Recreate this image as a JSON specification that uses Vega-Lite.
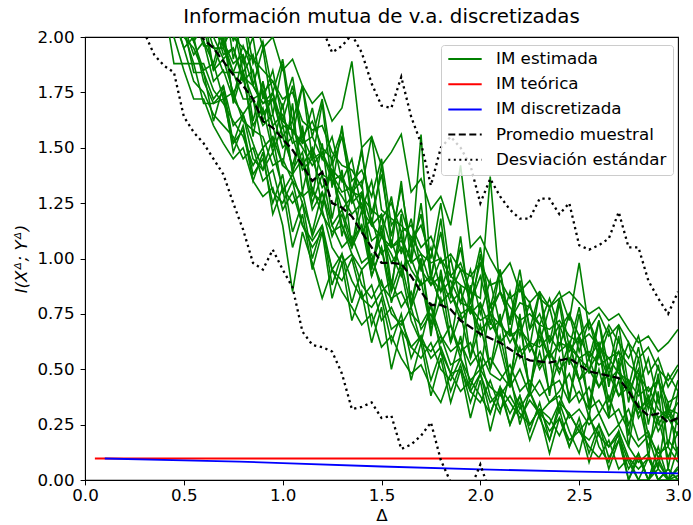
{
"$schema":"https://vega.github.io/schema/vega-lite/v6.json",
"width":593,"height":443,
"autosize":{"type":"none"},
"padding":{"left":85,"top":37,"right":15,"bottom":45},
"title":{"text":"Información mutua de v.a. discretizadas","fontSize":19.8,"fontWeight":"normal","font":"DejaVu Sans","color":"black","offset":2},
"config":{"font":"DejaVu Sans","view":{"stroke":"black","strokeWidth":1.1},
"axis":{"grid":false,"labelFlush":false,"domainColor":"black","domainWidth":1,"tickColor":"black","tickWidth":1,"labelColor":"black","titleColor":"black","labelFontSize":16.7,"titleFontSize":16.7,"titleFontWeight":"normal","tickSize":4.9}},
"datasets":{
"est":[
{"r":1,"x":0.3,"y":2.45},{"r":1,"x":0.35,"y":2.2},{"r":1,"x":0.4,"y":2.15},{"r":1,"x":0.45,"y":1.88},{"r":1,"x":0.5,"y":1.88},{"r":1,"x":0.55,"y":1.88},{"r":1,"x":0.6,"y":1.7},{"r":1,"x":0.65,"y":1.7},{"r":1,"x":0.7,"y":1.75},{"r":1,"x":0.75,"y":1.48},{"r":1,"x":0.8,"y":1.6},{"r":1,"x":0.85,"y":1.38},{"r":1,"x":0.9,"y":1.45},{"r":1,"x":0.95,"y":1.25},{"r":1,"x":1,"y":1.38},{"r":1,"x":1.05,"y":1.12},{"r":1,"x":1.1,"y":1.25},{"r":1,"x":1.15,"y":1},{"r":1,"x":1.2,"y":1.15},{"r":1,"x":1.25,"y":0.88},{"r":1,"x":1.3,"y":1.02},{"r":1,"x":1.35,"y":0.8},{"r":1,"x":1.4,"y":0.95},{"r":1,"x":1.45,"y":0.7},{"r":1,"x":1.5,"y":0.82},{"r":1,"x":1.55,"y":0.62},{"r":1,"x":1.6,"y":0.75},{"r":1,"x":1.65,"y":0.55},{"r":1,"x":1.7,"y":0.65},{"r":1,"x":1.75,"y":0.45},{"r":1,"x":1.8,"y":0.58},{"r":1,"x":1.85,"y":0.4},{"r":1,"x":1.9,"y":0.52},{"r":1,"x":1.95,"y":0.35},{"r":1,"x":2,"y":0.48},{"r":1,"x":2.05,"y":0.3},{"r":1,"x":2.1,"y":0.42},{"r":1,"x":2.15,"y":0.25},{"r":1,"x":2.2,"y":0.38},{"r":1,"x":2.25,"y":0.22},{"r":1,"x":2.3,"y":0.35},{"r":1,"x":2.35,"y":0.18},{"r":1,"x":2.4,"y":0.32},{"r":1,"x":2.45,"y":0.15},{"r":1,"x":2.5,"y":0.28},{"r":1,"x":2.55,"y":0.12},{"r":1,"x":2.6,"y":0.25},{"r":1,"x":2.65,"y":0.1},{"r":1,"x":2.7,"y":0.18},{"r":1,"x":2.75,"y":0.05},{"r":1,"x":2.8,"y":0.12},{"r":1,"x":2.85,"y":0},{"r":1,"x":2.9,"y":0.08},{"r":1,"x":2.95,"y":0},{"r":1,"x":3,"y":0.05},
{"r":2,"x":0.3,"y":3},{"r":2,"x":0.35,"y":2.85},{"r":2,"x":0.4,"y":2.8},{"r":2,"x":0.45,"y":2.55},{"r":2,"x":0.5,"y":2.5},{"r":2,"x":0.55,"y":2.25},{"r":2,"x":0.6,"y":2.35},{"r":2,"x":0.65,"y":2.1},{"r":2,"x":0.7,"y":2.25},{"r":2,"x":0.75,"y":1.98},{"r":2,"x":0.8,"y":2.12},{"r":2,"x":0.85,"y":1.88},{"r":2,"x":0.9,"y":1.98},{"r":2,"x":0.95,"y":1.75},{"r":2,"x":1,"y":1.9},{"r":2,"x":1.05,"y":1.62},{"r":2,"x":1.1,"y":1.78},{"r":2,"x":1.15,"y":1.55},{"r":2,"x":1.2,"y":1.72},{"r":2,"x":1.25,"y":1.42},{"r":2,"x":1.3,"y":1.55},{"r":2,"x":1.35,"y":1.3},{"r":2,"x":1.4,"y":1.48},{"r":2,"x":1.45,"y":1.2},{"r":2,"x":1.5,"y":1.38},{"r":2,"x":1.55,"y":1.1},{"r":2,"x":1.6,"y":1.32},{"r":2,"x":1.65,"y":1.05},{"r":2,"x":1.7,"y":1.2},{"r":2,"x":1.75,"y":0.92},{"r":2,"x":1.8,"y":1.12},{"r":2,"x":1.85,"y":0.85},{"r":2,"x":1.9,"y":1.05},{"r":2,"x":1.95,"y":0.8},{"r":2,"x":2,"y":0.98},{"r":2,"x":2.05,"y":0.78},{"r":2,"x":2.1,"y":0.95},{"r":2,"x":2.15,"y":0.7},{"r":2,"x":2.2,"y":0.9},{"r":2,"x":2.25,"y":0.68},{"r":2,"x":2.3,"y":0.85},{"r":2,"x":2.35,"y":0.62},{"r":2,"x":2.4,"y":0.82},{"r":2,"x":2.45,"y":0.6},{"r":2,"x":2.5,"y":0.78},{"r":2,"x":2.55,"y":0.55},{"r":2,"x":2.6,"y":0.72},{"r":2,"x":2.65,"y":0.5},{"r":2,"x":2.7,"y":0.7},{"r":2,"x":2.75,"y":0.42},{"r":2,"x":2.8,"y":0.6},{"r":2,"x":2.85,"y":0.35},{"r":2,"x":2.9,"y":0.52},{"r":2,"x":2.95,"y":0.3},{"r":2,"x":3,"y":0.45},
{"r":3,"x":0.3,"y":2.8},{"r":3,"x":0.35,"y":2.7},{"r":3,"x":0.4,"y":2.5},{"r":3,"x":0.45,"y":2.38},{"r":3,"x":0.5,"y":2.2},{"r":3,"x":0.55,"y":2.15},{"r":3,"x":0.6,"y":2.02},{"r":3,"x":0.65,"y":2.08},{"r":3,"x":0.7,"y":1.92},{"r":3,"x":0.75,"y":1.95},{"r":3,"x":0.8,"y":1.8},{"r":3,"x":0.85,"y":1.85},{"r":3,"x":0.9,"y":1.65},{"r":3,"x":0.95,"y":1.72},{"r":3,"x":1,"y":1.55},{"r":3,"x":1.05,"y":1.62},{"r":3,"x":1.1,"y":1.42},{"r":3,"x":1.15,"y":1.5},{"r":3,"x":1.2,"y":1.38},{"r":3,"x":1.25,"y":1.35},{"r":3,"x":1.3,"y":1.28},{"r":3,"x":1.35,"y":1.2},{"r":3,"x":1.4,"y":1.25},{"r":3,"x":1.45,"y":1.08},{"r":3,"x":1.5,"y":1.12},{"r":3,"x":1.55,"y":0.98},{"r":3,"x":1.6,"y":1.05},{"r":3,"x":1.65,"y":0.95},{"r":3,"x":1.7,"y":0.88},{"r":3,"x":1.75,"y":0.92},{"r":3,"x":1.8,"y":0.8},{"r":3,"x":1.85,"y":0.85},{"r":3,"x":1.9,"y":0.72},{"r":3,"x":1.95,"y":0.78},{"r":3,"x":2,"y":0.65},{"r":3,"x":2.05,"y":0.75},{"r":3,"x":2.1,"y":0.62},{"r":3,"x":2.15,"y":0.68},{"r":3,"x":2.2,"y":0.55},{"r":3,"x":2.25,"y":0.62},{"r":3,"x":2.3,"y":0.5},{"r":3,"x":2.35,"y":0.58},{"r":3,"x":2.4,"y":0.48},{"r":3,"x":2.45,"y":0.62},{"r":3,"x":2.5,"y":0.45},{"r":3,"x":2.55,"y":0.55},{"r":3,"x":2.6,"y":0.42},{"r":3,"x":2.65,"y":0.52},{"r":3,"x":2.7,"y":0.38},{"r":3,"x":2.75,"y":0.45},{"r":3,"x":2.8,"y":0.28},{"r":3,"x":2.85,"y":0.35},{"r":3,"x":2.9,"y":0.22},{"r":3,"x":2.95,"y":0.3},{"r":3,"x":3,"y":0.25},
{"r":4,"x":0.3,"y":2.65},{"r":4,"x":0.35,"y":2.4},{"r":4,"x":0.4,"y":2.38},{"r":4,"x":0.45,"y":2.15},{"r":4,"x":0.5,"y":2.05},{"r":4,"x":0.55,"y":1.92},{"r":4,"x":0.6,"y":1.98},{"r":4,"x":0.65,"y":1.8},{"r":4,"x":0.7,"y":1.85},{"r":4,"x":0.75,"y":1.72},{"r":4,"x":0.8,"y":1.65},{"r":4,"x":0.85,"y":1.72},{"r":4,"x":0.9,"y":1.5},{"r":4,"x":0.95,"y":1.55},{"r":4,"x":1,"y":1.42},{"r":4,"x":1.05,"y":1.38},{"r":4,"x":1.1,"y":1.45},{"r":4,"x":1.15,"y":1.22},{"r":4,"x":1.2,"y":1.3},{"r":4,"x":1.25,"y":1.15},{"r":4,"x":1.3,"y":1.05},{"r":4,"x":1.35,"y":1.1},{"r":4,"x":1.4,"y":0.98},{"r":4,"x":1.45,"y":1.02},{"r":4,"x":1.5,"y":0.85},{"r":4,"x":1.55,"y":0.9},{"r":4,"x":1.6,"y":0.78},{"r":4,"x":1.65,"y":0.85},{"r":4,"x":1.7,"y":0.68},{"r":4,"x":1.75,"y":0.75},{"r":4,"x":1.8,"y":0.62},{"r":4,"x":1.85,"y":0.7},{"r":4,"x":1.9,"y":0.58},{"r":4,"x":1.95,"y":0.62},{"r":4,"x":2,"y":0.5},{"r":4,"x":2.05,"y":0.55},{"r":4,"x":2.1,"y":0.48},{"r":4,"x":2.15,"y":0.42},{"r":4,"x":2.2,"y":0.5},{"r":4,"x":2.25,"y":0.38},{"r":4,"x":2.3,"y":0.45},{"r":4,"x":2.35,"y":0.35},{"r":4,"x":2.4,"y":0.4},{"r":4,"x":2.45,"y":0.48},{"r":4,"x":2.5,"y":0.35},{"r":4,"x":2.55,"y":0.42},{"r":4,"x":2.6,"y":0.3},{"r":4,"x":2.65,"y":0.38},{"r":4,"x":2.7,"y":0.25},{"r":4,"x":2.75,"y":0.32},{"r":4,"x":2.8,"y":0.18},{"r":4,"x":2.85,"y":0.22},{"r":4,"x":2.9,"y":0.1},{"r":4,"x":2.95,"y":0.18},{"r":4,"x":3,"y":0.12},
{"r":5,"x":0.3,"y":3.1},{"r":5,"x":0.35,"y":2.95},{"r":5,"x":0.4,"y":2.85},{"r":5,"x":0.45,"y":2.7},{"r":5,"x":0.5,"y":2.55},{"r":5,"x":0.55,"y":2.45},{"r":5,"x":0.6,"y":2.3},{"r":5,"x":0.65,"y":2.35},{"r":5,"x":0.7,"y":2.18},{"r":5,"x":0.75,"y":2.22},{"r":5,"x":0.8,"y":2.08},{"r":5,"x":0.85,"y":2.12},{"r":5,"x":0.9,"y":1.95},{"r":5,"x":0.95,"y":2},{"r":5,"x":1,"y":1.85},{"r":5,"x":1.05,"y":1.9},{"r":5,"x":1.1,"y":1.78},{"r":5,"x":1.15,"y":1.7},{"r":5,"x":1.2,"y":1.75},{"r":5,"x":1.25,"y":1.62},{"r":5,"x":1.3,"y":1.68},{"r":5,"x":1.35,"y":1.89},{"r":5,"x":1.4,"y":1.5},{"r":5,"x":1.45,"y":1.55},{"r":5,"x":1.5,"y":1.42},{"r":5,"x":1.55,"y":1.48},{"r":5,"x":1.6,"y":1.56},{"r":5,"x":1.65,"y":1.3},{"r":5,"x":1.7,"y":1.36},{"r":5,"x":1.75,"y":1.22},{"r":5,"x":1.8,"y":1.28},{"r":5,"x":1.85,"y":1.15},{"r":5,"x":1.9,"y":1.42},{"r":5,"x":1.95,"y":1.05},{"r":5,"x":2,"y":1.1},{"r":5,"x":2.05,"y":1},{"r":5,"x":2.1,"y":0.92},{"r":5,"x":2.15,"y":0.98},{"r":5,"x":2.2,"y":0.85},{"r":5,"x":2.25,"y":0.9},{"r":5,"x":2.3,"y":0.82},{"r":5,"x":2.35,"y":0.78},{"r":5,"x":2.4,"y":0.85},{"r":5,"x":2.45,"y":0.72},{"r":5,"x":2.5,"y":0.98},{"r":5,"x":2.55,"y":0.68},{"r":5,"x":2.6,"y":0.75},{"r":5,"x":2.65,"y":0.65},{"r":5,"x":2.7,"y":0.7},{"r":5,"x":2.75,"y":0.62},{"r":5,"x":2.8,"y":0.55},{"r":5,"x":2.85,"y":0.6},{"r":5,"x":2.9,"y":0.5},{"r":5,"x":2.95,"y":0.45},{"r":5,"x":3,"y":0.52},
{"r":6,"x":0.3,"y":2.55},{"r":6,"x":0.35,"y":2.45},{"r":6,"x":0.4,"y":2.25},{"r":6,"x":0.45,"y":2.2},{"r":6,"x":0.5,"y":2},{"r":6,"x":0.55,"y":1.95},{"r":6,"x":0.6,"y":1.84},{"r":6,"x":0.65,"y":1.72},{"r":6,"x":0.7,"y":1.78},{"r":6,"x":0.75,"y":1.6},{"r":6,"x":0.8,"y":1.65},{"r":6,"x":0.85,"y":1.52},{"r":6,"x":0.9,"y":1.4},{"r":6,"x":0.95,"y":1.48},{"r":6,"x":1,"y":1.32},{"r":6,"x":1.05,"y":1.25},{"r":6,"x":1.1,"y":1.3},{"r":6,"x":1.15,"y":1.1},{"r":6,"x":1.2,"y":1.22},{"r":6,"x":1.25,"y":1.05},{"r":6,"x":1.3,"y":0.98},{"r":6,"x":1.35,"y":1.02},{"r":6,"x":1.4,"y":0.88},{"r":6,"x":1.45,"y":0.82},{"r":6,"x":1.5,"y":0.9},{"r":6,"x":1.55,"y":0.75},{"r":6,"x":1.6,"y":0.7},{"r":6,"x":1.65,"y":0.78},{"r":6,"x":1.7,"y":0.62},{"r":6,"x":1.75,"y":0.58},{"r":6,"x":1.8,"y":0.65},{"r":6,"x":1.85,"y":0.52},{"r":6,"x":1.9,"y":0.55},{"r":6,"x":1.95,"y":0.45},{"r":6,"x":2,"y":0.5},{"r":6,"x":2.05,"y":0.42},{"r":6,"x":2.1,"y":0.38},{"r":6,"x":2.15,"y":0.45},{"r":6,"x":2.2,"y":0.32},{"r":6,"x":2.25,"y":0.4},{"r":6,"x":2.3,"y":0.3},{"r":6,"x":2.35,"y":0.35},{"r":6,"x":2.4,"y":0.38},{"r":6,"x":2.45,"y":0.28},{"r":6,"x":2.5,"y":0.32},{"r":6,"x":2.55,"y":0.25},{"r":6,"x":2.6,"y":0.3},{"r":6,"x":2.65,"y":0.2},{"r":6,"x":2.7,"y":0.25},{"r":6,"x":2.75,"y":0.15},{"r":6,"x":2.8,"y":0.08},{"r":6,"x":2.85,"y":0.12},{"r":6,"x":2.9,"y":0},{"r":6,"x":2.95,"y":0.05},{"r":6,"x":3,"y":0},
{"r":7,"x":0.3,"y":2.9},{"r":7,"x":0.35,"y":2.8},{"r":7,"x":0.4,"y":2.58},{"r":7,"x":0.45,"y":2.5},{"r":7,"x":0.5,"y":2.3},{"r":7,"x":0.55,"y":2.25},{"r":7,"x":0.6,"y":2.05},{"r":7,"x":0.65,"y":2.2},{"r":7,"x":0.7,"y":1.95},{"r":7,"x":0.75,"y":2.1},{"r":7,"x":0.8,"y":1.88},{"r":7,"x":0.85,"y":2},{"r":7,"x":0.9,"y":1.72},{"r":7,"x":0.95,"y":1.85},{"r":7,"x":1,"y":1.62},{"r":7,"x":1.05,"y":1.78},{"r":7,"x":1.1,"y":1.52},{"r":7,"x":1.15,"y":1.68},{"r":7,"x":1.2,"y":1.45},{"r":7,"x":1.25,"y":1.55},{"r":7,"x":1.3,"y":1.35},{"r":7,"x":1.35,"y":1.45},{"r":7,"x":1.4,"y":1.22},{"r":7,"x":1.45,"y":1.35},{"r":7,"x":1.5,"y":1.1},{"r":7,"x":1.55,"y":1.28},{"r":7,"x":1.6,"y":1.02},{"r":7,"x":1.65,"y":1.18},{"r":7,"x":1.7,"y":0.95},{"r":7,"x":1.75,"y":1.05},{"r":7,"x":1.8,"y":0.85},{"r":7,"x":1.85,"y":1},{"r":7,"x":1.9,"y":0.8},{"r":7,"x":1.95,"y":0.95},{"r":7,"x":2,"y":0.75},{"r":7,"x":2.05,"y":0.9},{"r":7,"x":2.1,"y":0.7},{"r":7,"x":2.15,"y":0.85},{"r":7,"x":2.2,"y":0.65},{"r":7,"x":2.25,"y":0.8},{"r":7,"x":2.3,"y":0.62},{"r":7,"x":2.35,"y":0.78},{"r":7,"x":2.4,"y":0.6},{"r":7,"x":2.45,"y":0.75},{"r":7,"x":2.5,"y":0.58},{"r":7,"x":2.55,"y":0.72},{"r":7,"x":2.6,"y":0.55},{"r":7,"x":2.65,"y":0.68},{"r":7,"x":2.7,"y":0.5},{"r":7,"x":2.75,"y":0.62},{"r":7,"x":2.8,"y":0.42},{"r":7,"x":2.85,"y":0.55},{"r":7,"x":2.9,"y":0.35},{"r":7,"x":2.95,"y":0.48},{"r":7,"x":3,"y":0.4},
{"r":8,"x":0.3,"y":2.4},{"r":8,"x":0.35,"y":2.25},{"r":8,"x":0.4,"y":2.1},{"r":8,"x":0.45,"y":2},{"r":8,"x":0.5,"y":1.85},{"r":8,"x":0.55,"y":1.72},{"r":8,"x":0.6,"y":1.72},{"r":8,"x":0.65,"y":1.6},{"r":8,"x":0.7,"y":1.52},{"r":8,"x":0.75,"y":1.45},{"r":8,"x":0.8,"y":1.5},{"r":8,"x":0.85,"y":1.35},{"r":8,"x":0.9,"y":1.28},{"r":8,"x":0.95,"y":1.32},{"r":8,"x":1,"y":1.15},{"r":8,"x":1.05,"y":0.85},{"r":8,"x":1.1,"y":1.12},{"r":8,"x":1.15,"y":0.98},{"r":8,"x":1.2,"y":0.82},{"r":8,"x":1.25,"y":0.95},{"r":8,"x":1.3,"y":0.85},{"r":8,"x":1.35,"y":0.78},{"r":8,"x":1.4,"y":0.7},{"r":8,"x":1.45,"y":0.75},{"r":8,"x":1.5,"y":0.6},{"r":8,"x":1.55,"y":0.65},{"r":8,"x":1.6,"y":0.55},{"r":8,"x":1.65,"y":0.48},{"r":8,"x":1.7,"y":0.52},{"r":8,"x":1.75,"y":0.42},{"r":8,"x":1.8,"y":0.35},{"r":8,"x":1.85,"y":0.48},{"r":8,"x":1.9,"y":0.4},{"r":8,"x":1.95,"y":0.45},{"r":8,"x":2,"y":0.38},{"r":8,"x":2.05,"y":0.3},{"r":8,"x":2.1,"y":0.42},{"r":8,"x":2.15,"y":0.35},{"r":8,"x":2.2,"y":0.28},{"r":8,"x":2.25,"y":0.36},{"r":8,"x":2.3,"y":0.3},{"r":8,"x":2.35,"y":0.25},{"r":8,"x":2.4,"y":0.35},{"r":8,"x":2.45,"y":0.3},{"r":8,"x":2.5,"y":0.22},{"r":8,"x":2.55,"y":0.28},{"r":8,"x":2.6,"y":0.2},{"r":8,"x":2.65,"y":0.15},{"r":8,"x":2.7,"y":0.22},{"r":8,"x":2.75,"y":0.1},{"r":8,"x":2.8,"y":0.05},{"r":8,"x":2.85,"y":0.1},{"r":8,"x":2.9,"y":0},{"r":8,"x":2.95,"y":0},{"r":8,"x":3,"y":0.06},
{"r":9,"x":0.3,"y":2.95},{"r":9,"x":0.35,"y":2.75},{"r":9,"x":0.4,"y":2.65},{"r":9,"x":0.45,"y":2.55},{"r":9,"x":0.5,"y":2.38},{"r":9,"x":0.55,"y":2.3},{"r":9,"x":0.6,"y":2.18},{"r":9,"x":0.65,"y":2.1},{"r":9,"x":0.7,"y":2.15},{"r":9,"x":0.75,"y":2},{"r":9,"x":0.8,"y":1.95},{"r":9,"x":0.85,"y":1.9},{"r":9,"x":0.9,"y":1.85},{"r":9,"x":0.95,"y":1.8},{"r":9,"x":1,"y":1.72},{"r":9,"x":1.05,"y":1.75},{"r":9,"x":1.1,"y":1.62},{"r":9,"x":1.15,"y":1.58},{"r":9,"x":1.2,"y":1.6},{"r":9,"x":1.25,"y":1.48},{"r":9,"x":1.3,"y":1.42},{"r":9,"x":1.35,"y":1.4},{"r":9,"x":1.4,"y":1.32},{"r":9,"x":1.45,"y":1.55},{"r":9,"x":1.5,"y":1.22},{"r":9,"x":1.55,"y":1.18},{"r":9,"x":1.6,"y":1.15},{"r":9,"x":1.65,"y":1.1},{"r":9,"x":1.7,"y":1.02},{"r":9,"x":1.75,"y":0.98},{"r":9,"x":1.8,"y":1},{"r":9,"x":1.85,"y":0.92},{"r":9,"x":1.9,"y":0.88},{"r":9,"x":1.95,"y":0.85},{"r":9,"x":2,"y":0.82},{"r":9,"x":2.05,"y":1.37},{"r":9,"x":2.1,"y":0.85},{"r":9,"x":2.15,"y":0.78},{"r":9,"x":2.2,"y":0.72},{"r":9,"x":2.25,"y":0.75},{"r":9,"x":2.3,"y":0.7},{"r":9,"x":2.35,"y":0.68},{"r":9,"x":2.4,"y":0.72},{"r":9,"x":2.45,"y":0.65},{"r":9,"x":2.5,"y":0.62},{"r":9,"x":2.55,"y":0.66},{"r":9,"x":2.6,"y":0.6},{"r":9,"x":2.65,"y":0.55},{"r":9,"x":2.7,"y":0.58},{"r":9,"x":2.75,"y":0.52},{"r":9,"x":2.8,"y":0.48},{"r":9,"x":2.85,"y":0.4},{"r":9,"x":2.9,"y":0.45},{"r":9,"x":2.95,"y":0.35},{"r":9,"x":3,"y":0.38},
{"r":10,"x":0.3,"y":2.7},{"r":10,"x":0.35,"y":2.55},{"r":10,"x":0.4,"y":2.45},{"r":10,"x":0.45,"y":2.2},{"r":10,"x":0.5,"y":2.18},{"r":10,"x":0.55,"y":1.98},{"r":10,"x":0.6,"y":2.05},{"r":10,"x":0.65,"y":1.85},{"r":10,"x":0.7,"y":1.9},{"r":10,"x":0.75,"y":1.75},{"r":10,"x":0.8,"y":1.82},{"r":10,"x":0.85,"y":1.6},{"r":10,"x":0.9,"y":1.68},{"r":10,"x":0.95,"y":1.48},{"r":10,"x":1,"y":1.6},{"r":10,"x":1.05,"y":1.4},{"r":10,"x":1.1,"y":1.48},{"r":10,"x":1.15,"y":1.25},{"r":10,"x":1.2,"y":1.38},{"r":10,"x":1.25,"y":1.15},{"r":10,"x":1.3,"y":1.22},{"r":10,"x":1.35,"y":1.08},{"r":10,"x":1.4,"y":1.15},{"r":10,"x":1.45,"y":0.92},{"r":10,"x":1.5,"y":1.05},{"r":10,"x":1.55,"y":0.85},{"r":10,"x":1.6,"y":0.98},{"r":10,"x":1.65,"y":0.78},{"r":10,"x":1.7,"y":0.9},{"r":10,"x":1.75,"y":0.68},{"r":10,"x":1.8,"y":0.82},{"r":10,"x":1.85,"y":0.62},{"r":10,"x":1.9,"y":0.75},{"r":10,"x":1.95,"y":0.55},{"r":10,"x":2,"y":0.7},{"r":10,"x":2.05,"y":0.5},{"r":10,"x":2.1,"y":0.65},{"r":10,"x":2.15,"y":0.45},{"r":10,"x":2.2,"y":0.6},{"r":10,"x":2.25,"y":0.42},{"r":10,"x":2.3,"y":0.58},{"r":10,"x":2.35,"y":0.4},{"r":10,"x":2.4,"y":0.55},{"r":10,"x":2.45,"y":0.38},{"r":10,"x":2.5,"y":0.55},{"r":10,"x":2.55,"y":0.35},{"r":10,"x":2.6,"y":0.5},{"r":10,"x":2.65,"y":0.32},{"r":10,"x":2.7,"y":0.45},{"r":10,"x":2.75,"y":0.25},{"r":10,"x":2.8,"y":0.35},{"r":10,"x":2.85,"y":0.15},{"r":10,"x":2.9,"y":0.28},{"r":10,"x":2.95,"y":0.1},{"r":10,"x":3,"y":0.22},
{"r":11,"x":0.3,"y":2.85},{"r":11,"x":0.35,"y":2.6},{"r":11,"x":0.4,"y":2.55},{"r":11,"x":0.45,"y":2.4},{"r":11,"x":0.5,"y":2.25},{"r":11,"x":0.55,"y":2.1},{"r":11,"x":0.6,"y":2.1},{"r":11,"x":0.65,"y":1.95},{"r":11,"x":0.7,"y":1.95},{"r":11,"x":0.75,"y":1.84},{"r":11,"x":0.8,"y":1.84},{"r":11,"x":0.85,"y":1.72},{"r":11,"x":0.9,"y":1.75},{"r":11,"x":0.95,"y":1.6},{"r":11,"x":1,"y":1.65},{"r":11,"x":1.05,"y":1.52},{"r":11,"x":1.1,"y":1.55},{"r":11,"x":1.15,"y":1.45},{"r":11,"x":1.2,"y":1.48},{"r":11,"x":1.25,"y":1.35},{"r":11,"x":1.3,"y":1.38},{"r":11,"x":1.35,"y":1.25},{"r":11,"x":1.4,"y":1.3},{"r":11,"x":1.45,"y":1.15},{"r":11,"x":1.5,"y":1.2},{"r":11,"x":1.55,"y":1.05},{"r":11,"x":1.6,"y":1.1},{"r":11,"x":1.65,"y":0.98},{"r":11,"x":1.7,"y":1.02},{"r":11,"x":1.75,"y":0.88},{"r":11,"x":1.8,"y":0.92},{"r":11,"x":1.85,"y":0.8},{"r":11,"x":1.9,"y":0.85},{"r":11,"x":1.95,"y":0.75},{"r":11,"x":2,"y":0.8},{"r":11,"x":2.05,"y":0.68},{"r":11,"x":2.1,"y":0.72},{"r":11,"x":2.15,"y":0.62},{"r":11,"x":2.2,"y":0.7},{"r":11,"x":2.25,"y":0.58},{"r":11,"x":2.3,"y":0.65},{"r":11,"x":2.35,"y":0.55},{"r":11,"x":2.4,"y":0.62},{"r":11,"x":2.45,"y":0.6},{"r":11,"x":2.5,"y":0.55},{"r":11,"x":2.55,"y":0.5},{"r":11,"x":2.6,"y":0.58},{"r":11,"x":2.65,"y":0.45},{"r":11,"x":2.7,"y":0.5},{"r":11,"x":2.75,"y":0.4},{"r":11,"x":2.8,"y":0.3},{"r":11,"x":2.85,"y":0.38},{"r":11,"x":2.9,"y":0.25},{"r":11,"x":2.95,"y":0.32},{"r":11,"x":3,"y":0.3},
{"r":12,"x":0.3,"y":2.5},{"r":12,"x":0.35,"y":2.35},{"r":12,"x":0.4,"y":2.2},{"r":12,"x":0.45,"y":2.08},{"r":12,"x":0.5,"y":1.95},{"r":12,"x":0.55,"y":1.8},{"r":12,"x":0.6,"y":1.75},{"r":12,"x":0.65,"y":1.65},{"r":12,"x":0.7,"y":1.6},{"r":12,"x":0.75,"y":1.55},{"r":12,"x":0.8,"y":1.45},{"r":12,"x":0.85,"y":1.5},{"r":12,"x":0.9,"y":1.35},{"r":12,"x":0.95,"y":1.4},{"r":12,"x":1,"y":1.22},{"r":12,"x":1.05,"y":1.3},{"r":12,"x":1.1,"y":1.15},{"r":12,"x":1.15,"y":1.08},{"r":12,"x":1.2,"y":1.15},{"r":12,"x":1.25,"y":0.95},{"r":12,"x":1.3,"y":1.02},{"r":12,"x":1.35,"y":0.9},{"r":12,"x":1.4,"y":0.82},{"r":12,"x":1.45,"y":0.88},{"r":12,"x":1.5,"y":0.72},{"r":12,"x":1.55,"y":0.78},{"r":12,"x":1.6,"y":0.68},{"r":12,"x":1.65,"y":0.6},{"r":12,"x":1.7,"y":0.65},{"r":12,"x":1.75,"y":0.55},{"r":12,"x":1.8,"y":0.6},{"r":12,"x":1.85,"y":0.48},{"r":12,"x":1.9,"y":0.5},{"r":12,"x":1.95,"y":0.4},{"r":12,"x":2,"y":0.48},{"r":12,"x":2.05,"y":0.35},{"r":12,"x":2.1,"y":0.4},{"r":12,"x":2.15,"y":0.3},{"r":12,"x":2.2,"y":0.38},{"r":12,"x":2.25,"y":0.25},{"r":12,"x":2.3,"y":0.32},{"r":12,"x":2.35,"y":0.28},{"r":12,"x":2.4,"y":0.2},{"r":12,"x":2.45,"y":0.3},{"r":12,"x":2.5,"y":0.22},{"r":12,"x":2.55,"y":0.18},{"r":12,"x":2.6,"y":0.25},{"r":12,"x":2.65,"y":0.15},{"r":12,"x":2.7,"y":0.2},{"r":12,"x":2.75,"y":0.08},{"r":12,"x":2.8,"y":0},{"r":12,"x":2.85,"y":0.1},{"r":12,"x":2.9,"y":0},{"r":12,"x":2.95,"y":0.05},{"r":12,"x":3,"y":0},
{"r":13,"x":0.3,"y":2.75},{"r":13,"x":0.35,"y":2.65},{"r":13,"x":0.4,"y":2.5},{"r":13,"x":0.45,"y":2.45},{"r":13,"x":0.5,"y":2.28},{"r":13,"x":0.55,"y":2.2},{"r":13,"x":0.6,"y":2.12},{"r":13,"x":0.65,"y":2.02},{"r":13,"x":0.7,"y":1.98},{"r":13,"x":0.75,"y":1.88},{"r":13,"x":0.8,"y":1.92},{"r":13,"x":0.85,"y":1.78},{"r":13,"x":0.9,"y":1.7},{"r":13,"x":0.95,"y":1.75},{"r":13,"x":1,"y":1.6},{"r":13,"x":1.05,"y":1.58},{"r":13,"x":1.1,"y":1.52},{"r":13,"x":1.15,"y":1.55},{"r":13,"x":1.2,"y":1.45},{"r":13,"x":1.25,"y":1.4},{"r":13,"x":1.3,"y":1.35},{"r":13,"x":1.35,"y":1.3},{"r":13,"x":1.4,"y":1.28},{"r":13,"x":1.45,"y":1.22},{"r":13,"x":1.5,"y":1.18},{"r":13,"x":1.55,"y":1.25},{"r":13,"x":1.6,"y":1.12},{"r":13,"x":1.65,"y":1.15},{"r":13,"x":1.7,"y":1.05},{"r":13,"x":1.75,"y":1.1},{"r":13,"x":1.8,"y":0.98},{"r":13,"x":1.85,"y":1.02},{"r":13,"x":1.9,"y":0.95},{"r":13,"x":1.95,"y":0.92},{"r":13,"x":2,"y":0.98},{"r":13,"x":2.05,"y":0.88},{"r":13,"x":2.1,"y":0.9},{"r":13,"x":2.15,"y":0.82},{"r":13,"x":2.2,"y":0.86},{"r":13,"x":2.25,"y":0.8},{"r":13,"x":2.3,"y":0.85},{"r":13,"x":2.35,"y":0.78},{"r":13,"x":2.4,"y":0.82},{"r":13,"x":2.45,"y":0.85},{"r":13,"x":2.5,"y":0.8},{"r":13,"x":2.55,"y":0.75},{"r":13,"x":2.6,"y":0.78},{"r":13,"x":2.65,"y":0.72},{"r":13,"x":2.7,"y":0.75},{"r":13,"x":2.75,"y":0.68},{"r":13,"x":2.8,"y":0.62},{"r":13,"x":2.85,"y":0.65},{"r":13,"x":2.9,"y":0.58},{"r":13,"x":2.95,"y":0.62},{"r":13,"x":3,"y":0.68},
{"r":14,"x":0.3,"y":2.8},{"r":14,"x":0.35,"y":2.5},{"r":14,"x":0.4,"y":2.6},{"r":14,"x":0.45,"y":2.25},{"r":14,"x":0.5,"y":2.35},{"r":14,"x":0.55,"y":2},{"r":14,"x":0.6,"y":2.12},{"r":14,"x":0.65,"y":1.85},{"r":14,"x":0.7,"y":2},{"r":14,"x":0.75,"y":1.72},{"r":14,"x":0.8,"y":1.92},{"r":14,"x":0.85,"y":1.62},{"r":14,"x":0.9,"y":1.8},{"r":14,"x":0.95,"y":1.5},{"r":14,"x":1,"y":1.7},{"r":14,"x":1.05,"y":1.38},{"r":14,"x":1.1,"y":1.6},{"r":14,"x":1.15,"y":1.28},{"r":14,"x":1.2,"y":1.52},{"r":14,"x":1.25,"y":1.18},{"r":14,"x":1.3,"y":1.4},{"r":14,"x":1.35,"y":1.05},{"r":14,"x":1.4,"y":1.3},{"r":14,"x":1.45,"y":0.95},{"r":14,"x":1.5,"y":1.2},{"r":14,"x":1.55,"y":0.88},{"r":14,"x":1.6,"y":1.12},{"r":14,"x":1.65,"y":0.8},{"r":14,"x":1.7,"y":1},{"r":14,"x":1.75,"y":0.7},{"r":14,"x":1.8,"y":0.92},{"r":14,"x":1.85,"y":0.62},{"r":14,"x":1.9,"y":0.88},{"r":14,"x":1.95,"y":0.55},{"r":14,"x":2,"y":0.8},{"r":14,"x":2.05,"y":0.5},{"r":14,"x":2.1,"y":0.75},{"r":14,"x":2.15,"y":0.45},{"r":14,"x":2.2,"y":0.72},{"r":14,"x":2.25,"y":0.4},{"r":14,"x":2.3,"y":0.7},{"r":14,"x":2.35,"y":0.38},{"r":14,"x":2.4,"y":0.68},{"r":14,"x":2.45,"y":0.35},{"r":14,"x":2.5,"y":0.65},{"r":14,"x":2.55,"y":0.32},{"r":14,"x":2.6,"y":0.62},{"r":14,"x":2.65,"y":0.28},{"r":14,"x":2.7,"y":0.55},{"r":14,"x":2.75,"y":0.2},{"r":14,"x":2.8,"y":0.48},{"r":14,"x":2.85,"y":0.1},{"r":14,"x":2.9,"y":0.4},{"r":14,"x":2.95,"y":0.05},{"r":14,"x":3,"y":0.3},
{"r":15,"x":0.3,"y":2.6},{"r":15,"x":0.35,"y":2.5},{"r":15,"x":0.4,"y":2.3},{"r":15,"x":0.45,"y":2.22},{"r":15,"x":0.5,"y":2.05},{"r":15,"x":0.55,"y":1.98},{"r":15,"x":0.6,"y":1.85},{"r":15,"x":0.65,"y":1.88},{"r":15,"x":0.7,"y":1.72},{"r":15,"x":0.75,"y":1.75},{"r":15,"x":0.8,"y":1.62},{"r":15,"x":0.85,"y":1.58},{"r":15,"x":0.9,"y":1.55},{"r":15,"x":0.95,"y":1.42},{"r":15,"x":1,"y":1.45},{"r":15,"x":1.05,"y":1.35},{"r":15,"x":1.1,"y":1.28},{"r":15,"x":1.15,"y":1.32},{"r":15,"x":1.2,"y":1.2},{"r":15,"x":1.25,"y":1.12},{"r":15,"x":1.3,"y":1.15},{"r":15,"x":1.35,"y":1.02},{"r":15,"x":1.4,"y":0.95},{"r":15,"x":1.45,"y":1},{"r":15,"x":1.5,"y":0.88},{"r":15,"x":1.55,"y":0.82},{"r":15,"x":1.6,"y":0.85},{"r":15,"x":1.65,"y":0.75},{"r":15,"x":1.7,"y":0.7},{"r":15,"x":1.75,"y":0.78},{"r":15,"x":1.8,"y":0.65},{"r":15,"x":1.85,"y":0.58},{"r":15,"x":1.9,"y":0.62},{"r":15,"x":1.95,"y":0.52},{"r":15,"x":2,"y":0.58},{"r":15,"x":2.05,"y":0.48},{"r":15,"x":2.1,"y":0.45},{"r":15,"x":2.15,"y":0.52},{"r":15,"x":2.2,"y":0.4},{"r":15,"x":2.25,"y":0.45},{"r":15,"x":2.3,"y":0.38},{"r":15,"x":2.35,"y":0.42},{"r":15,"x":2.4,"y":0.45},{"r":15,"x":2.45,"y":0.35},{"r":15,"x":2.5,"y":0.4},{"r":15,"x":2.55,"y":0.32},{"r":15,"x":2.6,"y":0.36},{"r":15,"x":2.65,"y":0.28},{"r":15,"x":2.7,"y":0.32},{"r":15,"x":2.75,"y":0.22},{"r":15,"x":2.8,"y":0.15},{"r":15,"x":2.85,"y":0.2},{"r":15,"x":2.9,"y":0.12},{"r":15,"x":2.95,"y":0.15},{"r":15,"x":3,"y":0.08},
{"r":16,"x":0.3,"y":2.85},{"r":16,"x":0.35,"y":2.7},{"r":16,"x":0.4,"y":2.52},{"r":16,"x":0.45,"y":2.4},{"r":16,"x":0.5,"y":2.22},{"r":16,"x":0.55,"y":2.15},{"r":16,"x":0.6,"y":2.08},{"r":16,"x":0.65,"y":2},{"r":16,"x":0.7,"y":1.9},{"r":16,"x":0.75,"y":1.95},{"r":16,"x":0.8,"y":1.82},{"r":16,"x":0.85,"y":1.78},{"r":16,"x":0.9,"y":1.7},{"r":16,"x":0.95,"y":1.72},{"r":16,"x":1,"y":1.62},{"r":16,"x":1.05,"y":1.58},{"r":16,"x":1.1,"y":1.5},{"r":16,"x":1.15,"y":1.42},{"r":16,"x":1.2,"y":1.48},{"r":16,"x":1.25,"y":1.38},{"r":16,"x":1.3,"y":1.3},{"r":16,"x":1.35,"y":1.32},{"r":16,"x":1.4,"y":1.22},{"r":16,"x":1.45,"y":1.15},{"r":16,"x":1.5,"y":1.1},{"r":16,"x":1.55,"y":1.05},{"r":16,"x":1.6,"y":1.08},{"r":16,"x":1.65,"y":1},{"r":16,"x":1.7,"y":1.56},{"r":16,"x":1.75,"y":0.92},{"r":16,"x":1.8,"y":0.85},{"r":16,"x":1.85,"y":0.9},{"r":16,"x":1.9,"y":0.8},{"r":16,"x":1.95,"y":0.78},{"r":16,"x":2,"y":0.72},{"r":16,"x":2.05,"y":0.75},{"r":16,"x":2.1,"y":0.7},{"r":16,"x":2.15,"y":0.65},{"r":16,"x":2.2,"y":0.68},{"r":16,"x":2.25,"y":0.62},{"r":16,"x":2.3,"y":0.6},{"r":16,"x":2.35,"y":0.65},{"r":16,"x":2.4,"y":0.58},{"r":16,"x":2.45,"y":0.62},{"r":16,"x":2.5,"y":0.55},{"r":16,"x":2.55,"y":0.58},{"r":16,"x":2.6,"y":0.52},{"r":16,"x":2.65,"y":0.55},{"r":16,"x":2.7,"y":0.48},{"r":16,"x":2.75,"y":0.45},{"r":16,"x":2.8,"y":0.38},{"r":16,"x":2.85,"y":0.42},{"r":16,"x":2.9,"y":0.32},{"r":16,"x":2.95,"y":0.28},{"r":16,"x":3,"y":0.35},
{"r":17,"x":0.3,"y":2.7},{"r":17,"x":0.35,"y":2.62},{"r":17,"x":0.4,"y":2.35},{"r":17,"x":0.45,"y":2.45},{"r":17,"x":0.5,"y":2.12},{"r":17,"x":0.55,"y":2.25},{"r":17,"x":0.6,"y":1.98},{"r":17,"x":0.65,"y":1.88},{"r":17,"x":0.7,"y":2.05},{"r":17,"x":0.75,"y":1.7},{"r":17,"x":0.8,"y":1.85},{"r":17,"x":0.85,"y":1.55},{"r":17,"x":0.9,"y":1.8},{"r":17,"x":0.95,"y":1.6},{"r":17,"x":1,"y":1.42},{"r":17,"x":1.05,"y":1.7},{"r":17,"x":1.1,"y":1.3},{"r":17,"x":1.15,"y":1.5},{"r":17,"x":1.2,"y":1.22},{"r":17,"x":1.25,"y":1.45},{"r":17,"x":1.3,"y":1.1},{"r":17,"x":1.35,"y":1.3},{"r":17,"x":1.4,"y":1.35},{"r":17,"x":1.45,"y":0.95},{"r":17,"x":1.5,"y":1.15},{"r":17,"x":1.55,"y":0.85},{"r":17,"x":1.6,"y":1.2},{"r":17,"x":1.65,"y":0.78},{"r":17,"x":1.7,"y":1},{"r":17,"x":1.75,"y":0.65},{"r":17,"x":1.8,"y":0.95},{"r":17,"x":1.85,"y":0.7},{"r":17,"x":1.9,"y":0.55},{"r":17,"x":1.95,"y":0.88},{"r":17,"x":2,"y":0.48},{"r":17,"x":2.05,"y":0.8},{"r":17,"x":2.1,"y":0.6},{"r":17,"x":2.15,"y":0.42},{"r":17,"x":2.2,"y":0.75},{"r":17,"x":2.25,"y":0.38},{"r":17,"x":2.3,"y":0.68},{"r":17,"x":2.35,"y":0.55},{"r":17,"x":2.4,"y":0.3},{"r":17,"x":2.45,"y":0.62},{"r":17,"x":2.5,"y":0.45},{"r":17,"x":2.55,"y":0.28},{"r":17,"x":2.6,"y":0.6},{"r":17,"x":2.65,"y":0.35},{"r":17,"x":2.7,"y":0.52},{"r":17,"x":2.75,"y":0.15},{"r":17,"x":2.8,"y":0.42},{"r":17,"x":2.85,"y":0.2},{"r":17,"x":2.9,"y":0.05},{"r":17,"x":2.95,"y":0.35},{"r":17,"x":3,"y":0.1},
{"r":18,"x":0.3,"y":2.95},{"r":18,"x":0.35,"y":2.8},{"r":18,"x":0.4,"y":2.7},{"r":18,"x":0.45,"y":2.5},{"r":18,"x":0.5,"y":2.4},{"r":18,"x":0.55,"y":2.3},{"r":18,"x":0.6,"y":2.15},{"r":18,"x":0.65,"y":2.2},{"r":18,"x":0.7,"y":1.98},{"r":18,"x":0.75,"y":1.84},{"r":18,"x":0.8,"y":1.96},{"r":18,"x":0.85,"y":1.84},{"r":18,"x":0.9,"y":1.62},{"r":18,"x":0.95,"y":1.75},{"r":18,"x":1,"y":1.55},{"r":18,"x":1.05,"y":1.42},{"r":18,"x":1.1,"y":1.58},{"r":18,"x":1.15,"y":1.3},{"r":18,"x":1.2,"y":1.25},{"r":18,"x":1.25,"y":1.4},{"r":18,"x":1.3,"y":1.15},{"r":18,"x":1.35,"y":1.05},{"r":18,"x":1.4,"y":1.22},{"r":18,"x":1.45,"y":0.92},{"r":18,"x":1.5,"y":1.05},{"r":18,"x":1.55,"y":0.8},{"r":18,"x":1.6,"y":0.95},{"r":18,"x":1.65,"y":0.72},{"r":18,"x":1.7,"y":0.62},{"r":18,"x":1.75,"y":0.8},{"r":18,"x":1.8,"y":0.58},{"r":18,"x":1.85,"y":0.48},{"r":18,"x":1.9,"y":0.65},{"r":18,"x":1.95,"y":0.42},{"r":18,"x":2,"y":0.55},{"r":18,"x":2.05,"y":0.38},{"r":18,"x":2.1,"y":0.3},{"r":18,"x":2.15,"y":0.48},{"r":18,"x":2.2,"y":0.25},{"r":18,"x":2.25,"y":0.4},{"r":18,"x":2.3,"y":0.28},{"r":18,"x":2.35,"y":0.18},{"r":18,"x":2.4,"y":0.35},{"r":18,"x":2.45,"y":0.22},{"r":18,"x":2.5,"y":0.12},{"r":18,"x":2.55,"y":0.3},{"r":18,"x":2.6,"y":0.15},{"r":18,"x":2.65,"y":0.08},{"r":18,"x":2.7,"y":0.22},{"r":18,"x":2.75,"y":0},{"r":18,"x":2.8,"y":0.1},{"r":18,"x":2.85,"y":0},{"r":18,"x":2.9,"y":0.15},{"r":18,"x":2.95,"y":0},{"r":18,"x":3,"y":0.02},
{"r":19,"x":0.3,"y":2.5},{"r":19,"x":0.35,"y":2.3},{"r":19,"x":0.4,"y":2.25},{"r":19,"x":0.45,"y":2},{"r":19,"x":0.5,"y":2.05},{"r":19,"x":0.55,"y":1.84},{"r":19,"x":0.6,"y":1.84},{"r":19,"x":0.65,"y":1.62},{"r":19,"x":0.7,"y":1.78},{"r":19,"x":0.75,"y":1.52},{"r":19,"x":0.8,"y":1.65},{"r":19,"x":0.85,"y":1.45},{"r":19,"x":0.9,"y":1.4},{"r":19,"x":0.95,"y":1.55},{"r":19,"x":1,"y":1.3},{"r":19,"x":1.05,"y":1.38},{"r":19,"x":1.1,"y":1.25},{"r":19,"x":1.15,"y":1.12},{"r":19,"x":1.2,"y":1.3},{"r":19,"x":1.25,"y":1.1},{"r":19,"x":1.3,"y":1.2},{"r":19,"x":1.35,"y":1.05},{"r":19,"x":1.4,"y":1.15},{"r":19,"x":1.45,"y":0.98},{"r":19,"x":1.5,"y":1.1},{"r":19,"x":1.55,"y":1.02},{"r":19,"x":1.6,"y":0.92},{"r":19,"x":1.65,"y":1.08},{"r":19,"x":1.7,"y":0.95},{"r":19,"x":1.75,"y":0.88},{"r":19,"x":1.8,"y":1},{"r":19,"x":1.85,"y":0.85},{"r":19,"x":1.9,"y":0.95},{"r":19,"x":1.95,"y":0.8},{"r":19,"x":2,"y":0.92},{"r":19,"x":2.05,"y":0.75},{"r":19,"x":2.1,"y":0.85},{"r":19,"x":2.15,"y":0.72},{"r":19,"x":2.2,"y":0.8},{"r":19,"x":2.25,"y":0.78},{"r":19,"x":2.3,"y":0.7},{"r":19,"x":2.35,"y":0.82},{"r":19,"x":2.4,"y":0.68},{"r":19,"x":2.45,"y":0.75},{"r":19,"x":2.5,"y":0.65},{"r":19,"x":2.55,"y":0.72},{"r":19,"x":2.6,"y":0.6},{"r":19,"x":2.65,"y":0.7},{"r":19,"x":2.7,"y":0.62},{"r":19,"x":2.75,"y":0.55},{"r":19,"x":2.8,"y":0.65},{"r":19,"x":2.85,"y":0.48},{"r":19,"x":2.9,"y":0.55},{"r":19,"x":2.95,"y":0.42},{"r":19,"x":3,"y":0.5},
{"r":20,"x":0.3,"y":2.6},{"r":20,"x":0.35,"y":2.4},{"r":20,"x":0.4,"y":2.3},{"r":20,"x":0.45,"y":2.1},{"r":20,"x":0.5,"y":1.95},{"r":20,"x":0.55,"y":2},{"r":20,"x":0.6,"y":1.8},{"r":20,"x":0.65,"y":1.7},{"r":20,"x":0.7,"y":1.72},{"r":20,"x":0.75,"y":1.52},{"r":20,"x":0.8,"y":1.58},{"r":20,"x":0.85,"y":1.35},{"r":20,"x":0.9,"y":1.48},{"r":20,"x":0.95,"y":1.2},{"r":20,"x":1,"y":1.32},{"r":20,"x":1.05,"y":1.05},{"r":20,"x":1.1,"y":1.2},{"r":20,"x":1.15,"y":0.95},{"r":20,"x":1.2,"y":1.12},{"r":20,"x":1.25,"y":0.82},{"r":20,"x":1.3,"y":0.98},{"r":20,"x":1.35,"y":0.72},{"r":20,"x":1.4,"y":0.85},{"r":20,"x":1.45,"y":0.62},{"r":20,"x":1.5,"y":0.78},{"r":20,"x":1.55,"y":0.5},{"r":20,"x":1.6,"y":0.68},{"r":20,"x":1.65,"y":0.45},{"r":20,"x":1.7,"y":0.62},{"r":20,"x":1.75,"y":0.38},{"r":20,"x":1.8,"y":0.55},{"r":20,"x":1.85,"y":0.35},{"r":20,"x":1.9,"y":0.5},{"r":20,"x":1.95,"y":0.28},{"r":20,"x":2,"y":0.45},{"r":20,"x":2.05,"y":0.22},{"r":20,"x":2.1,"y":0.4},{"r":20,"x":2.15,"y":0.25},{"r":20,"x":2.2,"y":0.35},{"r":20,"x":2.25,"y":0.18},{"r":20,"x":2.3,"y":0.3},{"r":20,"x":2.35,"y":0.12},{"r":20,"x":2.4,"y":0.28},{"r":20,"x":2.45,"y":0.15},{"r":20,"x":2.5,"y":0.25},{"r":20,"x":2.55,"y":0.08},{"r":20,"x":2.6,"y":0.22},{"r":20,"x":2.65,"y":0.05},{"r":20,"x":2.7,"y":0.18},{"r":20,"x":2.75,"y":0},{"r":20,"x":2.8,"y":0.12},{"r":20,"x":2.85,"y":0},{"r":20,"x":2.9,"y":0.1},{"r":20,"x":2.95,"y":0},{"r":20,"x":3,"y":0.15},
{"r":21,"x":0.3,"y":2.9},{"r":21,"x":0.35,"y":2.7},{"r":21,"x":0.4,"y":2.6},{"r":21,"x":0.45,"y":2.42},{"r":21,"x":0.5,"y":2.35},{"r":21,"x":0.55,"y":2.18},{"r":21,"x":0.6,"y":2.1},{"r":21,"x":0.65,"y":2.15},{"r":21,"x":0.7,"y":1.96},{"r":21,"x":0.75,"y":2.05},{"r":21,"x":0.8,"y":1.84},{"r":21,"x":0.85,"y":1.92},{"r":21,"x":0.9,"y":1.75},{"r":21,"x":0.95,"y":1.8},{"r":21,"x":1,"y":1.68},{"r":21,"x":1.05,"y":1.82},{"r":21,"x":1.1,"y":1.55},{"r":21,"x":1.15,"y":1.62},{"r":21,"x":1.2,"y":1.5},{"r":21,"x":1.25,"y":1.45},{"r":21,"x":1.3,"y":1.58},{"r":21,"x":1.35,"y":1.35},{"r":21,"x":1.4,"y":1.4},{"r":21,"x":1.45,"y":1.28},{"r":21,"x":1.5,"y":1.45},{"r":21,"x":1.55,"y":1.15},{"r":21,"x":1.6,"y":1.22},{"r":21,"x":1.65,"y":1.08},{"r":21,"x":1.7,"y":1.15},{"r":21,"x":1.75,"y":1},{"r":21,"x":1.8,"y":1.25},{"r":21,"x":1.85,"y":0.92},{"r":21,"x":1.9,"y":0.98},{"r":21,"x":1.95,"y":0.85},{"r":21,"x":2,"y":1.05},{"r":21,"x":2.05,"y":0.78},{"r":21,"x":2.1,"y":0.85},{"r":21,"x":2.15,"y":0.72},{"r":21,"x":2.2,"y":0.95},{"r":21,"x":2.25,"y":0.68},{"r":21,"x":2.3,"y":0.75},{"r":21,"x":2.35,"y":0.62},{"r":21,"x":2.4,"y":0.7},{"r":21,"x":2.45,"y":0.58},{"r":21,"x":2.5,"y":0.65},{"r":21,"x":2.55,"y":0.55},{"r":21,"x":2.6,"y":0.62},{"r":21,"x":2.65,"y":0.48},{"r":21,"x":2.7,"y":0.58},{"r":21,"x":2.75,"y":0.4},{"r":21,"x":2.8,"y":0.5},{"r":21,"x":2.85,"y":0.32},{"r":21,"x":2.9,"y":0.45},{"r":21,"x":2.95,"y":0.28},{"r":21,"x":3,"y":0.2},
{"r":22,"x":0.3,"y":2.55},{"r":22,"x":0.35,"y":2.42},{"r":22,"x":0.4,"y":2.28},{"r":22,"x":0.45,"y":2.12},{"r":22,"x":0.5,"y":2.02},{"r":22,"x":0.55,"y":1.88},{"r":22,"x":0.6,"y":1.88},{"r":22,"x":0.65,"y":1.76},{"r":22,"x":0.7,"y":1.7},{"r":22,"x":0.75,"y":1.62},{"r":22,"x":0.8,"y":1.55},{"r":22,"x":0.85,"y":1.42},{"r":22,"x":0.9,"y":1.5},{"r":22,"x":0.95,"y":1.3},{"r":22,"x":1,"y":1.25},{"r":22,"x":1.05,"y":1.35},{"r":22,"x":1.1,"y":1.15},{"r":22,"x":1.15,"y":1.05},{"r":22,"x":1.2,"y":1.12},{"r":22,"x":1.25,"y":0.95},{"r":22,"x":1.3,"y":0.9},{"r":22,"x":1.35,"y":1},{"r":22,"x":1.4,"y":0.82},{"r":22,"x":1.45,"y":0.78},{"r":22,"x":1.5,"y":0.85},{"r":22,"x":1.55,"y":0.68},{"r":22,"x":1.6,"y":0.72},{"r":22,"x":1.65,"y":0.6},{"r":22,"x":1.7,"y":0.55},{"r":22,"x":1.75,"y":0.62},{"r":22,"x":1.8,"y":0.5},{"r":22,"x":1.85,"y":0.45},{"r":22,"x":1.9,"y":0.55},{"r":22,"x":1.95,"y":0.4},{"r":22,"x":2,"y":0.35},{"r":22,"x":2.05,"y":0.45},{"r":22,"x":2.1,"y":0.32},{"r":22,"x":2.15,"y":0.38},{"r":22,"x":2.2,"y":0.3},{"r":22,"x":2.25,"y":0.25},{"r":22,"x":2.3,"y":0.32},{"r":22,"x":2.35,"y":0.22},{"r":22,"x":2.4,"y":0.28},{"r":22,"x":2.45,"y":0.18},{"r":22,"x":2.5,"y":0.22},{"r":22,"x":2.55,"y":0.15},{"r":22,"x":2.6,"y":0.1},{"r":22,"x":2.65,"y":0.18},{"r":22,"x":2.7,"y":0.05},{"r":22,"x":2.75,"y":0.1},{"r":22,"x":2.8,"y":0},{"r":22,"x":2.85,"y":0},{"r":22,"x":2.9,"y":0.05},{"r":22,"x":2.95,"y":0},{"r":22,"x":3,"y":0},
{"r":23,"x":0.3,"y":2.75},{"r":23,"x":0.35,"y":2.58},{"r":23,"x":0.4,"y":2.48},{"r":23,"x":0.45,"y":2.32},{"r":23,"x":0.5,"y":2.2},{"r":23,"x":0.55,"y":2.1},{"r":23,"x":0.6,"y":1.96},{"r":23,"x":0.65,"y":1.96},{"r":23,"x":0.7,"y":1.84},{"r":23,"x":0.75,"y":1.84},{"r":23,"x":0.8,"y":1.72},{"r":23,"x":0.85,"y":1.72},{"r":23,"x":0.9,"y":1.6},{"r":23,"x":0.95,"y":1.65},{"r":23,"x":1,"y":1.5},{"r":23,"x":1.05,"y":1.55},{"r":23,"x":1.1,"y":1.4},{"r":23,"x":1.15,"y":1.45},{"r":23,"x":1.2,"y":1.32},{"r":23,"x":1.25,"y":1.38},{"r":23,"x":1.3,"y":1.22},{"r":23,"x":1.35,"y":1.28},{"r":23,"x":1.4,"y":1.12},{"r":23,"x":1.45,"y":1.18},{"r":23,"x":1.5,"y":1.02},{"r":23,"x":1.55,"y":1.08},{"r":23,"x":1.6,"y":0.95},{"r":23,"x":1.65,"y":1},{"r":23,"x":1.7,"y":0.88},{"r":23,"x":1.75,"y":0.92},{"r":23,"x":1.8,"y":0.8},{"r":23,"x":1.85,"y":0.85},{"r":23,"x":1.9,"y":0.75},{"r":23,"x":1.95,"y":0.78},{"r":23,"x":2,"y":0.68},{"r":23,"x":2.05,"y":0.72},{"r":23,"x":2.1,"y":0.62},{"r":23,"x":2.15,"y":0.68},{"r":23,"x":2.2,"y":0.58},{"r":23,"x":2.25,"y":0.62},{"r":23,"x":2.3,"y":0.52},{"r":23,"x":2.35,"y":0.58},{"r":23,"x":2.4,"y":0.5},{"r":23,"x":2.45,"y":0.55},{"r":23,"x":2.5,"y":0.45},{"r":23,"x":2.55,"y":0.5},{"r":23,"x":2.6,"y":0.42},{"r":23,"x":2.65,"y":0.48},{"r":23,"x":2.7,"y":0.38},{"r":23,"x":2.75,"y":0.42},{"r":23,"x":2.8,"y":0.32},{"r":23,"x":2.85,"y":0.36},{"r":23,"x":2.9,"y":0.28},{"r":23,"x":2.95,"y":0.32},{"r":23,"x":3,"y":0.25},
{"r":24,"x":0.3,"y":3},{"r":24,"x":0.35,"y":2.75},{"r":24,"x":0.4,"y":2.85},{"r":24,"x":0.45,"y":2.5},{"r":24,"x":0.5,"y":2.62},{"r":24,"x":0.55,"y":2.25},{"r":24,"x":0.6,"y":2.4},{"r":24,"x":0.65,"y":2.05},{"r":24,"x":0.7,"y":2.22},{"r":24,"x":0.75,"y":1.9},{"r":24,"x":0.8,"y":2.1},{"r":24,"x":0.85,"y":1.78},{"r":24,"x":0.9,"y":1.95},{"r":24,"x":0.95,"y":1.65},{"r":24,"x":1,"y":1.88},{"r":24,"x":1.05,"y":1.55},{"r":24,"x":1.1,"y":1.78},{"r":24,"x":1.15,"y":1.45},{"r":24,"x":1.2,"y":1.7},{"r":24,"x":1.25,"y":1.32},{"r":24,"x":1.3,"y":1.6},{"r":24,"x":1.35,"y":1.25},{"r":24,"x":1.4,"y":1.5},{"r":24,"x":1.45,"y":1.15},{"r":24,"x":1.5,"y":1.42},{"r":24,"x":1.55,"y":1.05},{"r":24,"x":1.6,"y":1.35},{"r":24,"x":1.65,"y":0.98},{"r":24,"x":1.7,"y":1.25},{"r":24,"x":1.75,"y":0.9},{"r":24,"x":1.8,"y":1.18},{"r":24,"x":1.85,"y":0.82},{"r":24,"x":1.9,"y":1.1},{"r":24,"x":1.95,"y":0.75},{"r":24,"x":2,"y":1.02},{"r":24,"x":2.05,"y":0.7},{"r":24,"x":2.1,"y":0.95},{"r":24,"x":2.15,"y":0.65},{"r":24,"x":2.2,"y":0.9},{"r":24,"x":2.25,"y":0.6},{"r":24,"x":2.3,"y":0.85},{"r":24,"x":2.35,"y":0.55},{"r":24,"x":2.4,"y":0.8},{"r":24,"x":2.45,"y":0.52},{"r":24,"x":2.5,"y":0.75},{"r":24,"x":2.55,"y":0.48},{"r":24,"x":2.6,"y":0.72},{"r":24,"x":2.65,"y":0.42},{"r":24,"x":2.7,"y":0.65},{"r":24,"x":2.75,"y":0.35},{"r":24,"x":2.8,"y":0.55},{"r":24,"x":2.85,"y":0.25},{"r":24,"x":2.9,"y":0.48},{"r":24,"x":2.95,"y":0.15},{"r":24,"x":3,"y":0.4}
],
"teo":[{"x":0.05,"y":0.097},{"x":3,"y":0.097}],
"disc":[{"x":0.1,"y":0.097},{"x":0.5,"y":0.089},{"x":0.78,"y":0.083},{"x":1,"y":0.076},{"x":1.5,"y":0.061},{"x":2,"y":0.048},{"x":2.5,"y":0.038},{"x":3,"y":0.03}],
"mean":[{"x":0.45,"y":2.3},{"x":0.5,"y":2.15},{"x":0.55,"y":2.04},{"x":0.6,"y":1.99},{"x":0.65,"y":1.95},{"x":0.7,"y":1.89},{"x":0.75,"y":1.83},{"x":0.8,"y":1.78},{"x":0.85,"y":1.72},{"x":0.9,"y":1.62},{"x":0.95,"y":1.59},{"x":1,"y":1.54},{"x":1.05,"y":1.49},{"x":1.1,"y":1.42},{"x":1.15,"y":1.35},{"x":1.2,"y":1.39},{"x":1.25,"y":1.25},{"x":1.3,"y":1.23},{"x":1.35,"y":1.19},{"x":1.4,"y":1.12},{"x":1.45,"y":1.05},{"x":1.5,"y":0.98},{"x":1.55,"y":0.98},{"x":1.6,"y":0.975},{"x":1.65,"y":0.92},{"x":1.7,"y":0.85},{"x":1.75,"y":0.79},{"x":1.8,"y":0.79},{"x":1.85,"y":0.77},{"x":1.9,"y":0.72},{"x":1.95,"y":0.69},{"x":2,"y":0.66},{"x":2.05,"y":0.64},{"x":2.1,"y":0.62},{"x":2.15,"y":0.59},{"x":2.2,"y":0.56},{"x":2.25,"y":0.54},{"x":2.3,"y":0.535},{"x":2.35,"y":0.53},{"x":2.4,"y":0.54},{"x":2.45,"y":0.55},{"x":2.5,"y":0.52},{"x":2.55,"y":0.49},{"x":2.6,"y":0.48},{"x":2.65,"y":0.47},{"x":2.7,"y":0.46},{"x":2.75,"y":0.4},{"x":2.8,"y":0.33},{"x":2.85,"y":0.29},{"x":2.9,"y":0.3},{"x":2.95,"y":0.26},{"x":3,"y":0.28}],
"std":[{"r":"u","x":1.1,"y":2.1},{"r":"u","x":1.15,"y":2.06},{"r":"u","x":1.2,"y":2.04},{"r":"u","x":1.25,"y":1.93},{"r":"u","x":1.3,"y":1.96},{"r":"u","x":1.35,"y":2.01},{"r":"u","x":1.4,"y":1.93},{"r":"u","x":1.45,"y":1.79},{"r":"u","x":1.5,"y":1.69},{"r":"u","x":1.55,"y":1.68},{"r":"u","x":1.6,"y":1.82},{"r":"u","x":1.65,"y":1.64},{"r":"u","x":1.7,"y":1.52},{"r":"u","x":1.75,"y":1.33},{"r":"u","x":1.8,"y":1.5},{"r":"u","x":1.85,"y":1.55},{"r":"u","x":1.9,"y":1.5},{"r":"u","x":1.95,"y":1.42},{"r":"u","x":2,"y":1.25},{"r":"u","x":2.05,"y":1.36},{"r":"u","x":2.1,"y":1.28},{"r":"u","x":2.15,"y":1.22},{"r":"u","x":2.2,"y":1.18},{"r":"u","x":2.25,"y":1.18},{"r":"u","x":2.3,"y":1.27},{"r":"u","x":2.35,"y":1.27},{"r":"u","x":2.4,"y":1.2},{"r":"u","x":2.45,"y":1.25},{"r":"u","x":2.5,"y":1.06},{"r":"u","x":2.55,"y":1.04},{"r":"u","x":2.6,"y":1.06},{"r":"u","x":2.65,"y":1.09},{"r":"u","x":2.7,"y":1.21},{"r":"u","x":2.75,"y":1.05},{"r":"u","x":2.8,"y":1.05},{"r":"u","x":2.85,"y":0.9},{"r":"u","x":2.9,"y":0.82},{"r":"u","x":2.95,"y":0.75},{"r":"u","x":3,"y":0.85},
{"r":"l","x":0.25,"y":2.15},{"r":"l","x":0.3,"y":2.02},{"r":"l","x":0.35,"y":1.92},{"r":"l","x":0.4,"y":1.87},{"r":"l","x":0.45,"y":1.84},{"r":"l","x":0.5,"y":1.64},{"r":"l","x":0.55,"y":1.57},{"r":"l","x":0.6,"y":1.52},{"r":"l","x":0.65,"y":1.45},{"r":"l","x":0.7,"y":1.38},{"r":"l","x":0.75,"y":1.25},{"r":"l","x":0.8,"y":1.13},{"r":"l","x":0.85,"y":0.98},{"r":"l","x":0.9,"y":0.95},{"r":"l","x":0.95,"y":1.04},{"r":"l","x":1,"y":0.95},{"r":"l","x":1.05,"y":0.87},{"r":"l","x":1.1,"y":0.67},{"r":"l","x":1.15,"y":0.61},{"r":"l","x":1.2,"y":0.6},{"r":"l","x":1.25,"y":0.58},{"r":"l","x":1.3,"y":0.48},{"r":"l","x":1.35,"y":0.32},{"r":"l","x":1.4,"y":0.33},{"r":"l","x":1.45,"y":0.35},{"r":"l","x":1.5,"y":0.28},{"r":"l","x":1.55,"y":0.29},{"r":"l","x":1.6,"y":0.14},{"r":"l","x":1.65,"y":0.16},{"r":"l","x":1.7,"y":0.2},{"r":"l","x":1.75,"y":0.26},{"r":"l","x":1.8,"y":0.09},{"r":"l","x":1.85,"y":-0.01},{"r":"l","x":1.9,"y":-0.08},{"r":"l","x":1.95,"y":-0.04},{"r":"l","x":2,"y":0.07},{"r":"l","x":2.05,"y":-0.06},{"r":"l","x":2.1,"y":-0.12}]
},
"layer":[
{"data":{"name":"est"},"mark":{"type":"line","clip":true,"strokeWidth":1.6},
"encoding":{
"x":{"field":"x","type":"quantitative","scale":{"domain":[0,3],"nice":false,"zero":false},"axis":{"values":[0,0.5,1,1.5,2,2.5,3],"format":".1f","title":"Δ","titlePadding":3,"labelPadding":3}},
"y":{"field":"y","type":"quantitative","scale":{"domain":[0,2],"nice":false},"axis":{"values":[0,0.25,0.5,0.75,1,1.25,1.5,1.75,2],"format":".2f","title":"I(Xᐞ; Yᐞ)","titleFontStyle":"italic","titlePadding":6,"labelPadding":6}},
"detail":{"field":"r","type":"nominal"},
"color":{"datum":"IM estimada","type":"nominal","scale":{"domain":["IM estimada","IM teórica","IM discretizada","Promedio muestral","Desviación estándar"],"range":["#008000","#ff0000","#0000ff","#000000","#000000"]},
"legend":{"orient":"none","legendX":356,"legendY":8,"title":null,"symbolType":"stroke","symbolSize":1115,"symbolStrokeWidth":2,"labelFontSize":16.7,"labelOffset":13,"labelLimit":400,"labelColor":"black","clipHeight":16,"rowPadding":8.2,"padding":6,"fillColor":"rgba(255,255,255,0.8)","strokeColor":"#cccccc","cornerRadius":3,
"encode":{"symbols":{"update":{"strokeDash":{"signal":"datum.index == 3 ? [7,3.5] : (datum.index == 4 ? [2,3.5] : [1,0])"}}}}}}}},
{"data":{"name":"teo"},"mark":{"type":"line","clip":true,"strokeWidth":1.8},
"encoding":{"x":{"field":"x","type":"quantitative"},"y":{"field":"y","type":"quantitative"},"color":{"datum":"IM teórica","type":"nominal"}}},
{"data":{"name":"disc"},"mark":{"type":"line","clip":true,"strokeWidth":1.8},
"encoding":{"x":{"field":"x","type":"quantitative"},"y":{"field":"y","type":"quantitative"},"color":{"datum":"IM discretizada","type":"nominal"}}},
{"data":{"name":"mean"},"mark":{"type":"line","clip":true,"strokeWidth":2.3,"strokeDash":[8,3.5]},
"encoding":{"x":{"field":"x","type":"quantitative"},"y":{"field":"y","type":"quantitative"},"color":{"datum":"Promedio muestral","type":"nominal"}}},
{"data":{"name":"std"},"mark":{"type":"line","clip":true,"strokeWidth":2.3,"strokeDash":[2.3,3.6]},
"encoding":{"x":{"field":"x","type":"quantitative"},"y":{"field":"y","type":"quantitative"},"detail":{"field":"r","type":"nominal"},"color":{"datum":"Desviación estándar","type":"nominal"}}}
]
}
